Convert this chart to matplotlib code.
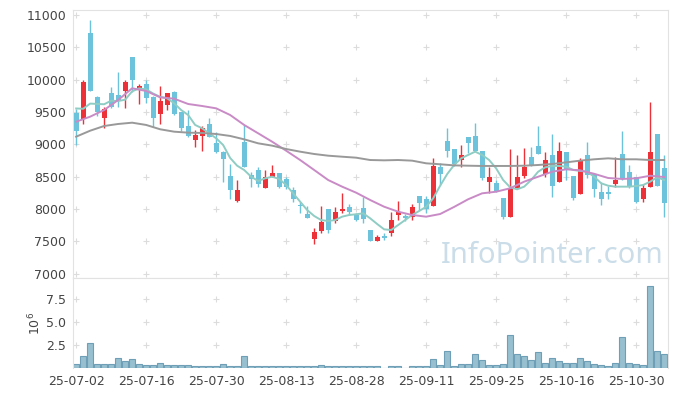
import matplotlib
matplotlib.use('Agg')
import matplotlib.pyplot as plt
import numpy as np

# daily candles, 85 trading days from 25-07-02 to 25-11-05
opens = [9480, 9390, 10720, 9730, 9400, 9790, 9760, 9830, 10350, 9860,
         9930, 9730, 9470, 9610, 9810, 9500, 9280, 9060, 9135, 9315,
         9015, 8875, 8510, 8125, 9040, 8525, 8605, 8330, 8500, 8555,
         8465, 8295, 8065, 7925, 7535, 7665, 7995, 7815, 7970, 8035,
         7905, 8010, 7675, 7505, 7585, 7635, 7910, 7895, 7870, 8200,
         8150, 8050, 8645, 9050, 8925, 8760, 9120, 9130, 8895, 8425,
         8400, 8165, 7880, 8320, 8510, 8805, 8975, 8540, 8835, 8415,
         8880, 8510, 8230, 8835, 8535, 8265, 8265, 8385, 8850, 8575,
         8490, 8155, 8345, 9155, 8630]
highs = [9550, 9990, 10920, 9750, 9580, 9880, 10120, 9990, 10350, 9930,
         9990, 9740, 9900, 9790, 9830, 9500, 9530, 9220, 9290, 9410,
         9190, 8900, 8700, 8450, 9300, 8570, 8655, 8605, 8680, 8560,
         8490, 8345, 8115, 8050, 7700, 8050, 8000, 8035, 8245, 8080,
         7935, 8180, 7680, 7600, 7635, 7950, 8125, 7930, 8080, 8200,
         8200, 8795, 8705, 9250, 8925, 8990, 9120, 9335, 8900, 8655,
         8450, 8170, 8925, 8835, 8940, 8955, 9285, 8875, 9160, 9040,
         8880, 8510, 8785, 9035, 8540, 8425, 8355, 8800, 9210, 8680,
         8490, 8385, 9650, 9160, 8835]
lows = [8990, 9310, 9830, 9440, 9250, 9560, 9580, 9560, 9810, 9630,
        9640, 9270, 9310, 9530, 9450, 9210, 9120, 8960, 8900, 9110,
        8870, 8420, 8155, 8115, 8650, 8345, 8345, 8330, 8500, 8330,
        8310, 8115, 7945, 7855, 7455, 7625, 7635, 7780, 7935, 7910,
        7820, 7780, 7505, 7505, 7520, 7590, 7830, 7820, 7830, 7985,
        7935, 8050, 8370, 8810, 8665, 8655, 8860, 8890, 8450, 8245,
        8260, 7840, 7880, 8320, 8475, 8670, 8845, 8500, 8180, 8415,
        8450, 8140, 8230, 8475, 8190, 8065, 8150, 8345, 8450, 8320,
        8090, 8115, 8345, 8360, 7870]
closes = [9210, 9960, 9830, 9505, 9550, 9570, 9690, 9960, 10000, 9900,
          9710, 9410, 9670, 9790, 9465, 9260, 9135, 9145, 9250, 9120,
          8875, 8775, 8295, 8295, 8655, 8460, 8385, 8490, 8555, 8345,
          8345, 8155, 8050, 7865, 7640, 7795, 7675, 7955, 8000, 7960,
          7830, 7845, 7505, 7570, 7555, 7830, 7960, 7865, 8035, 8100,
          7995, 8665, 8540, 8900, 8690, 8835, 9025, 8900, 8485, 8500,
          8280, 7870, 8320, 8500, 8645, 8670, 8845, 8760, 8360, 8895,
          8615, 8175, 8735, 8525, 8310, 8155, 8230, 8450, 8475, 8345,
          8115, 8320, 8875, 8360, 8100]

# volume in millions of shares
volume = [0.49, 1.26, 2.68, 0.49, 0.49, 0.49, 1.04, 0.75, 0.93, 0.49,
          0.38, 0.38, 0.60, 0.38, 0.38, 0.31, 0.38, 0.17, 0.27, 0.17,
          0.27, 0.49, 0.27, 0.17, 1.26, 0.17, 0.27, 0.17, 0.27, 0.17,
          0.17, 0.27, 0.17, 0.17, 0.27, 0.38, 0.17, 0.17, 0.27, 0.17,
          0.17, 0.17, 0.17, 0.17, 0.03, 0.17, 0.17, 0.03, 0.17, 0.17,
          0.17, 0.93, 0.38, 1.91, 0.27, 0.49, 0.49, 1.48, 0.82, 0.38,
          0.38, 0.45, 3.56, 1.48, 1.26, 0.82, 1.70, 0.60, 1.04, 0.71,
          0.60, 0.60, 1.04, 0.71, 0.49, 0.38, 0.27, 0.60, 3.34, 0.60,
          0.49, 0.38, 8.92, 1.91, 1.48]

# moving averages
ma5 = [9555, 9550, 9630, 9625, 9620, 9675, 9670, 9690, 9820, 9865,
       9850, 9785, 9735, 9712, 9635, 9531, 9454, 9300, 9248, 9171,
       9094, 8990, 8790, 8670, 8604, 8500, 8434, 8475, 8500, 8465,
       8372, 8243, 8114, 7985, 7893, 7830, 7815, 7830, 7882, 7908,
       7919, 7934, 7857, 7769, 7686, 7676, 7753, 7830, 7908, 7970,
       8035, 8165, 8360, 8540, 8681, 8784, 8836, 8887, 8836, 8758,
       8629, 8449, 8336, 8305, 8346, 8449, 8577, 8645, 8666, 8666,
       8655, 8604, 8590, 8577, 8500, 8398, 8361, 8346, 8346, 8346,
       8356, 8372, 8423, 8490, 8449]
ma_idx = list(range(0, 85, 2))
ma20 = [9350, 9428, 9531, 9686, 9867, 9825, 9727, 9706, 9624, 9593,
        9557, 9454, 9300, 9171, 9041, 8902, 8758, 8604, 8449, 8346,
        8253, 8140, 8036, 7959, 7908, 7882, 7923, 8033, 8151, 8243,
        8268, 8321, 8423, 8500, 8577, 8614, 8598, 8545, 8480, 8465,
        8475, 8515, 8495]
ma60 = [9119, 9211, 9284, 9315, 9335, 9300, 9233, 9196, 9181, 9176,
        9160, 9130, 9078, 9016, 8980, 8928, 8887, 8851, 8825, 8809,
        8794, 8758, 8753, 8758, 8748, 8707, 8692, 8675, 8670, 8666,
        8666, 8666, 8670, 8681, 8697, 8722, 8748, 8769, 8784, 8769,
        8769, 8758, 8758]

tick_labels = ['25-07-02', '25-07-16', '25-07-30', '25-08-13', '25-08-28',
               '25-09-11', '25-09-25', '25-10-16', '25-10-30']
price_ticks = [7000, 7500, 8000, 8500, 9000, 9500, 10000, 10500, 11000]
vol_ticks = [2.5, 5.0, 7.5]

UP = '#ec3238'
DOWN = '#6cc3db'
SPINE = '#e2e2e2'
TXT = '#444444'

x = np.arange(len(closes))
o = np.array(opens)
c = np.array(closes)
up = c > o
colors = np.where(up, UP, DOWN)
tick_pos = np.arange(0, 10 * len(tick_labels), 10)

fig = plt.figure(figsize=(6.77, 3.96), dpi=100)
W, H = 677, 396
ax = fig.add_axes([73 / W, 1 - 278 / H, 595 / W, 268 / H])
ax2 = fig.add_axes([73 / W, 1 - 368 / H, 595 / W, 90 / H], sharex=ax)

# cross-shaped grid marks
gx, gy = np.meshgrid(tick_pos, price_ticks)
ax.plot(gx.ravel(), gy.ravel(), '+', color='#dcdcdc', ms=4, mew=0.8, zorder=0)
gx, gy = np.meshgrid(tick_pos, vol_ticks)
ax2.plot(gx.ravel(), gy.ravel(), '+', color='#dcdcdc', ms=4, mew=0.8, zorder=0)

ax.text(0.805, 0.085, 'InfoPointer.com', transform=ax.transAxes, fontsize=21,
        family='Noto Sans', color='#cadde8', ha='center', va='center', zorder=0)

# candles
ax.vlines(x, lows, highs, colors=colors, lw=1, zorder=2)
body = np.maximum(np.abs(c - o), 12)
ax.bar(x, body, bottom=np.minimum(o, c), width=0.7, color=colors, zorder=3)

ax.plot(x, ma5, color='#8fcdc4', lw=1.4, zorder=4)
ax.plot(ma_idx, ma20, color='#c98bc6', lw=1.4, zorder=4)
ax.plot(ma_idx, ma60, color='#999999', lw=1.4, zorder=4)

ax.set_xlim(-0.45, 84.55)
ax.set_ylim(6934, 11077)
ax.set_yticks(price_ticks)
ax.tick_params(length=0, labelsize=9, labelcolor=TXT, pad=5)
ax.tick_params(axis='x', labelbottom=False)
for s in ax.spines.values():
    s.set_color(SPINE)

# volume
ax2.bar(x, volume, width=0.9, color='#97bfcf', edgecolor='#6f9fb6', lw=0.8, zorder=2)
ax2.set_ylim(0, 9.83)
ax2.set_yticks(vol_ticks)
ax2.set_yticklabels(['%.1f' % v for v in vol_ticks])
ax2.set_xticks(tick_pos)
ax2.set_xticklabels(tick_labels)
ax2.tick_params(length=0, labelsize=9, labelcolor=TXT, pad=5)
ax2.set_ylabel(r'$10^6$', fontsize=9, color=TXT, labelpad=2)
for s in ax2.spines.values():
    s.set_color(SPINE)
ax2.spines['bottom'].set_visible(False)

fig.savefig('out.png', dpi=100)
